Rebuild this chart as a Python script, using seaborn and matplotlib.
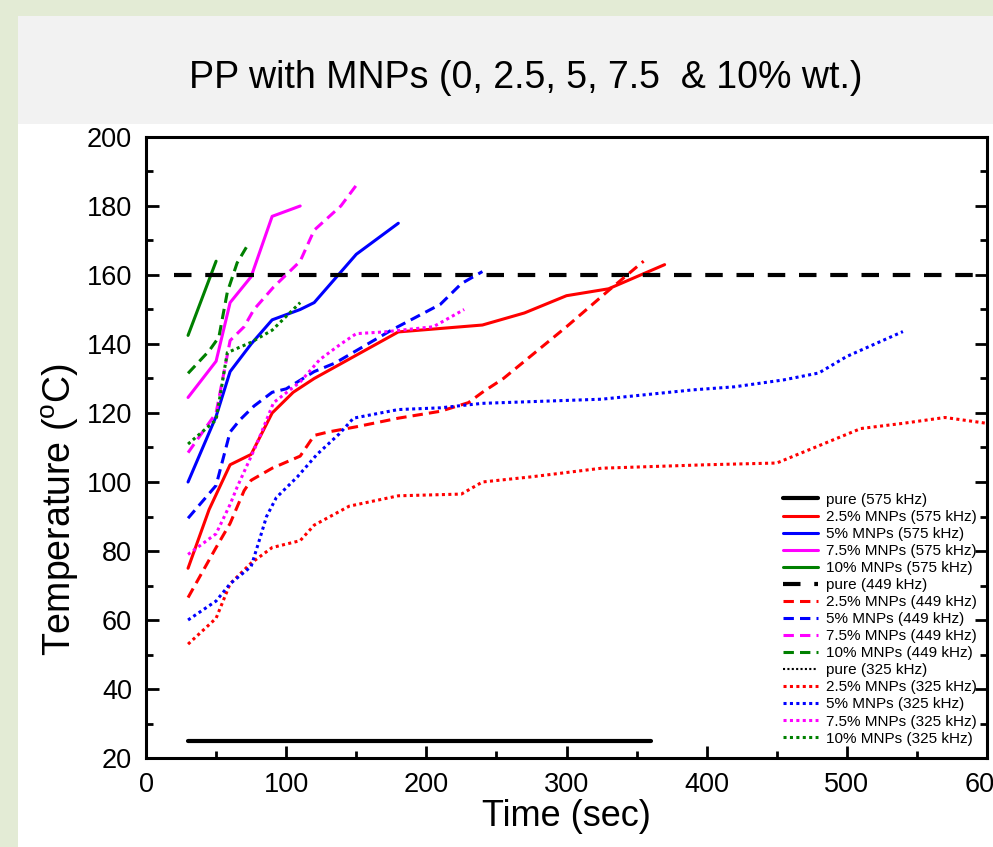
import matplotlib
matplotlib.use("Agg")
import matplotlib.pyplot as plt
from matplotlib.patches import Rectangle
from matplotlib.ticker import MultipleLocator
import seaborn as sns
import pandas as pd

# ---------------- data ----------------
title = "PP with MNPs (0, 2.5, 5, 7.5  & 10% wt.)"
xlabel = "Time (sec)"
ylabel = "Temperature ($^o$C)"

labels = ["pure (575 kHz)", "2.5% MNPs (575 kHz)", "5% MNPs (575 kHz)",
          "7.5% MNPs (575 kHz)", "10% MNPs (575 kHz)",
          "pure (449 kHz)", "2.5% MNPs (449 kHz)", "5% MNPs (449 kHz)",
          "7.5% MNPs (449 kHz)", "10% MNPs (449 kHz)",
          "pure (325 kHz)", "2.5% MNPs (325 kHz)", "5% MNPs (325 kHz)",
          "7.5% MNPs (325 kHz)", "10% MNPs (325 kHz)"]

# 575 kHz
x575_pure = [30, 360]
y575_pure = [25, 25]
x575_25 = [30, 45, 60, 75, 90, 105, 120, 180, 240, 270, 300, 330, 370]
y575_25 = [75, 92, 105, 108, 120, 126, 130, 143.5, 145.5, 149, 154, 156, 163]
x575_5 = [30, 50, 60, 75, 90, 110, 120, 150, 180]
y575_5 = [100, 119, 132, 140, 147, 150, 152, 166, 175]
x575_75 = [30, 50, 60, 75, 90, 110]
y575_75 = [124.5, 135, 152, 159.5, 177, 180]
x575_10 = [30, 50]
y575_10 = [142.5, 164]

# 449 kHz
x449_pure = [20, 600]
y449_pure = [160, 160]
x449_25 = [30, 50, 60, 70, 75, 90, 110, 120, 130, 150, 180, 210, 230, 240, 255, 270, 300, 330, 355]
y449_25 = [66.5, 81, 88, 97.5, 100.5, 104, 107.5, 113.5, 114.5, 116, 118.5, 120.5, 123, 126, 130, 135, 145, 155.5, 164]
x449_5 = [30, 50, 60, 67, 77, 90, 100, 120, 135, 175, 210, 225, 240]
y449_5 = [89.5, 99, 114.5, 118, 122, 126, 127, 132, 134.5, 144, 151.5, 157.5, 161]
x449_75 = [30, 50, 60, 70, 77, 91, 110, 120, 139, 150]
y449_75 = [108.5, 120, 141, 145, 150, 156.5, 164, 173, 180, 186]
x449_10 = [30, 45, 52, 58, 65, 73]
y449_10 = [131.5, 138, 142, 155, 163.5, 169]

# 325 kHz
x325_pure = [30, 360]
y325_pure = [25, 25]
x325_25 = [30, 50, 60, 75, 90, 110, 120, 145, 180, 225, 240, 275, 325, 400, 450, 510, 540, 570, 600]
y325_25 = [53, 60.5, 70.5, 76.5, 81, 83, 87.5, 93, 96, 96.5, 100, 101.5, 104, 105, 105.5, 115.5, 117, 118.7, 117]
x325_5 = [30, 50, 60, 75, 80, 86, 93, 108, 122, 138, 148, 180, 210, 240, 325, 390, 420, 455, 480, 500, 540]
y325_5 = [60, 65.5, 70.5, 75.5, 82, 90, 95.5, 101.5, 108, 114, 118.5, 121, 121.5, 122.8, 124, 126.7, 127.6, 129.6, 131.6, 136.4, 143.6]
x325_75 = [30, 50, 60, 65, 79, 91, 110, 124, 139, 150, 170, 205, 227]
y325_75 = [79, 85, 93.5, 98.5, 111, 123, 129, 135.5, 140, 143, 143.5, 145, 150]
x325_10 = [30, 50, 58, 75, 90, 110]
y325_10 = [111, 118, 137.5, 140.5, 144, 152]

series_x = [x575_pure, x575_25, x575_5, x575_75, x575_10,
            x449_pure, x449_25, x449_5, x449_75, x449_10,
            x325_pure, x325_25, x325_5, x325_75, x325_10]
series_y = [y575_pure, y575_25, y575_5, y575_75, y575_10,
            y449_pure, y449_25, y449_5, y449_75, y449_10,
            y325_pure, y325_25, y325_5, y325_75, y325_10]

# ---------------- styles ----------------
colors = ["black", "#ff0000", "#0000ff", "#ff00ff", "#008000"] * 3
solid = "-"
dashed = (0, (3.4, 2.0))
dotted = (0, (1.0, 1.1))
styles = [solid] * 5 + [dashed] * 5 + [dotted] * 5
widths = [3.0, 2.2, 2.2, 2.2, 2.2,
          3.0, 2.2, 2.2, 2.2, 2.2,
          1.5, 2.2, 2.2, 2.2, 2.2]

sns.set_theme(style="ticks")
plt.rcParams["font.family"] = ["Liberation Sans", "DejaVu Sans"]
plt.rcParams["mathtext.fontset"] = "custom"
plt.rcParams["mathtext.rm"] = "Liberation Sans"
plt.rcParams["mathtext.it"] = "Liberation Sans"
plt.rcParams["text.color"] = "black"
plt.rcParams["axes.labelcolor"] = "black"
plt.rcParams["xtick.color"] = "black"
plt.rcParams["ytick.color"] = "black"

fig = plt.figure(figsize=(9.93, 8.47), dpi=100)
fig.patch.set_facecolor("#e3ebd5")
fig.add_artist(Rectangle((18 / 993, 0), 1, 1 - 124 / 847, transform=fig.transFigure,
                         facecolor="white", edgecolor="none", zorder=0))
fig.add_artist(Rectangle((18 / 993, 1 - 124 / 847), 1, (124 - 16) / 847, transform=fig.transFigure,
                         facecolor="#f2f2f2", edgecolor="none", zorder=0))

ax = fig.add_axes([146 / 993, 1 - 758 / 847, (987 - 146) / 993, (758 - 137) / 847])
ax.set_facecolor("white")

for i in range(15):
    df = pd.DataFrame({"x": series_x[i], "y": series_y[i]})
    ls = styles[i]
    if i == 5:
        ls = (0, (4.2, 3.3))
    sns.lineplot(data=df, x="x", y="y", ax=ax, color=colors[i], linestyle=ls,
                 linewidth=widths[i], label=labels[i], estimator=None, sort=False,
                 zorder=3 if i != 10 else 2)

ax.set_xlim(0, 600)
ax.set_ylim(20, 200)
ax.xaxis.set_major_locator(MultipleLocator(100))
ax.xaxis.set_minor_locator(MultipleLocator(50))
ax.yaxis.set_major_locator(MultipleLocator(20))
ax.yaxis.set_minor_locator(MultipleLocator(10))
ax.tick_params(which="both", direction="in", top=False, right=True, width=2, color="black")
ax.tick_params(which="major", length=9, labelsize=19.5, pad=10)
ax.tick_params(which="minor", length=5)
for s in ax.spines.values():
    s.set_linewidth(2.2)
    s.set_color("black")

ax.set_xlabel(xlabel, fontsize=26, labelpad=0.5)
ax.set_ylabel(ylabel, fontsize=27)
ax.yaxis.set_label_coords(-0.077, 0.40)

leg = ax.legend(loc="lower right", bbox_to_anchor=(0.988, 0.02), frameon=False,
                fontsize=11, handlelength=2.3, handletextpad=0.5,
                labelspacing=0.2, borderaxespad=0, borderpad=0)

fig.text(526 / 993, 1 - 78 / 847, title, ha="center", va="center", fontsize=27)

fig.savefig("out.png", dpi=100, facecolor=fig.get_facecolor())
